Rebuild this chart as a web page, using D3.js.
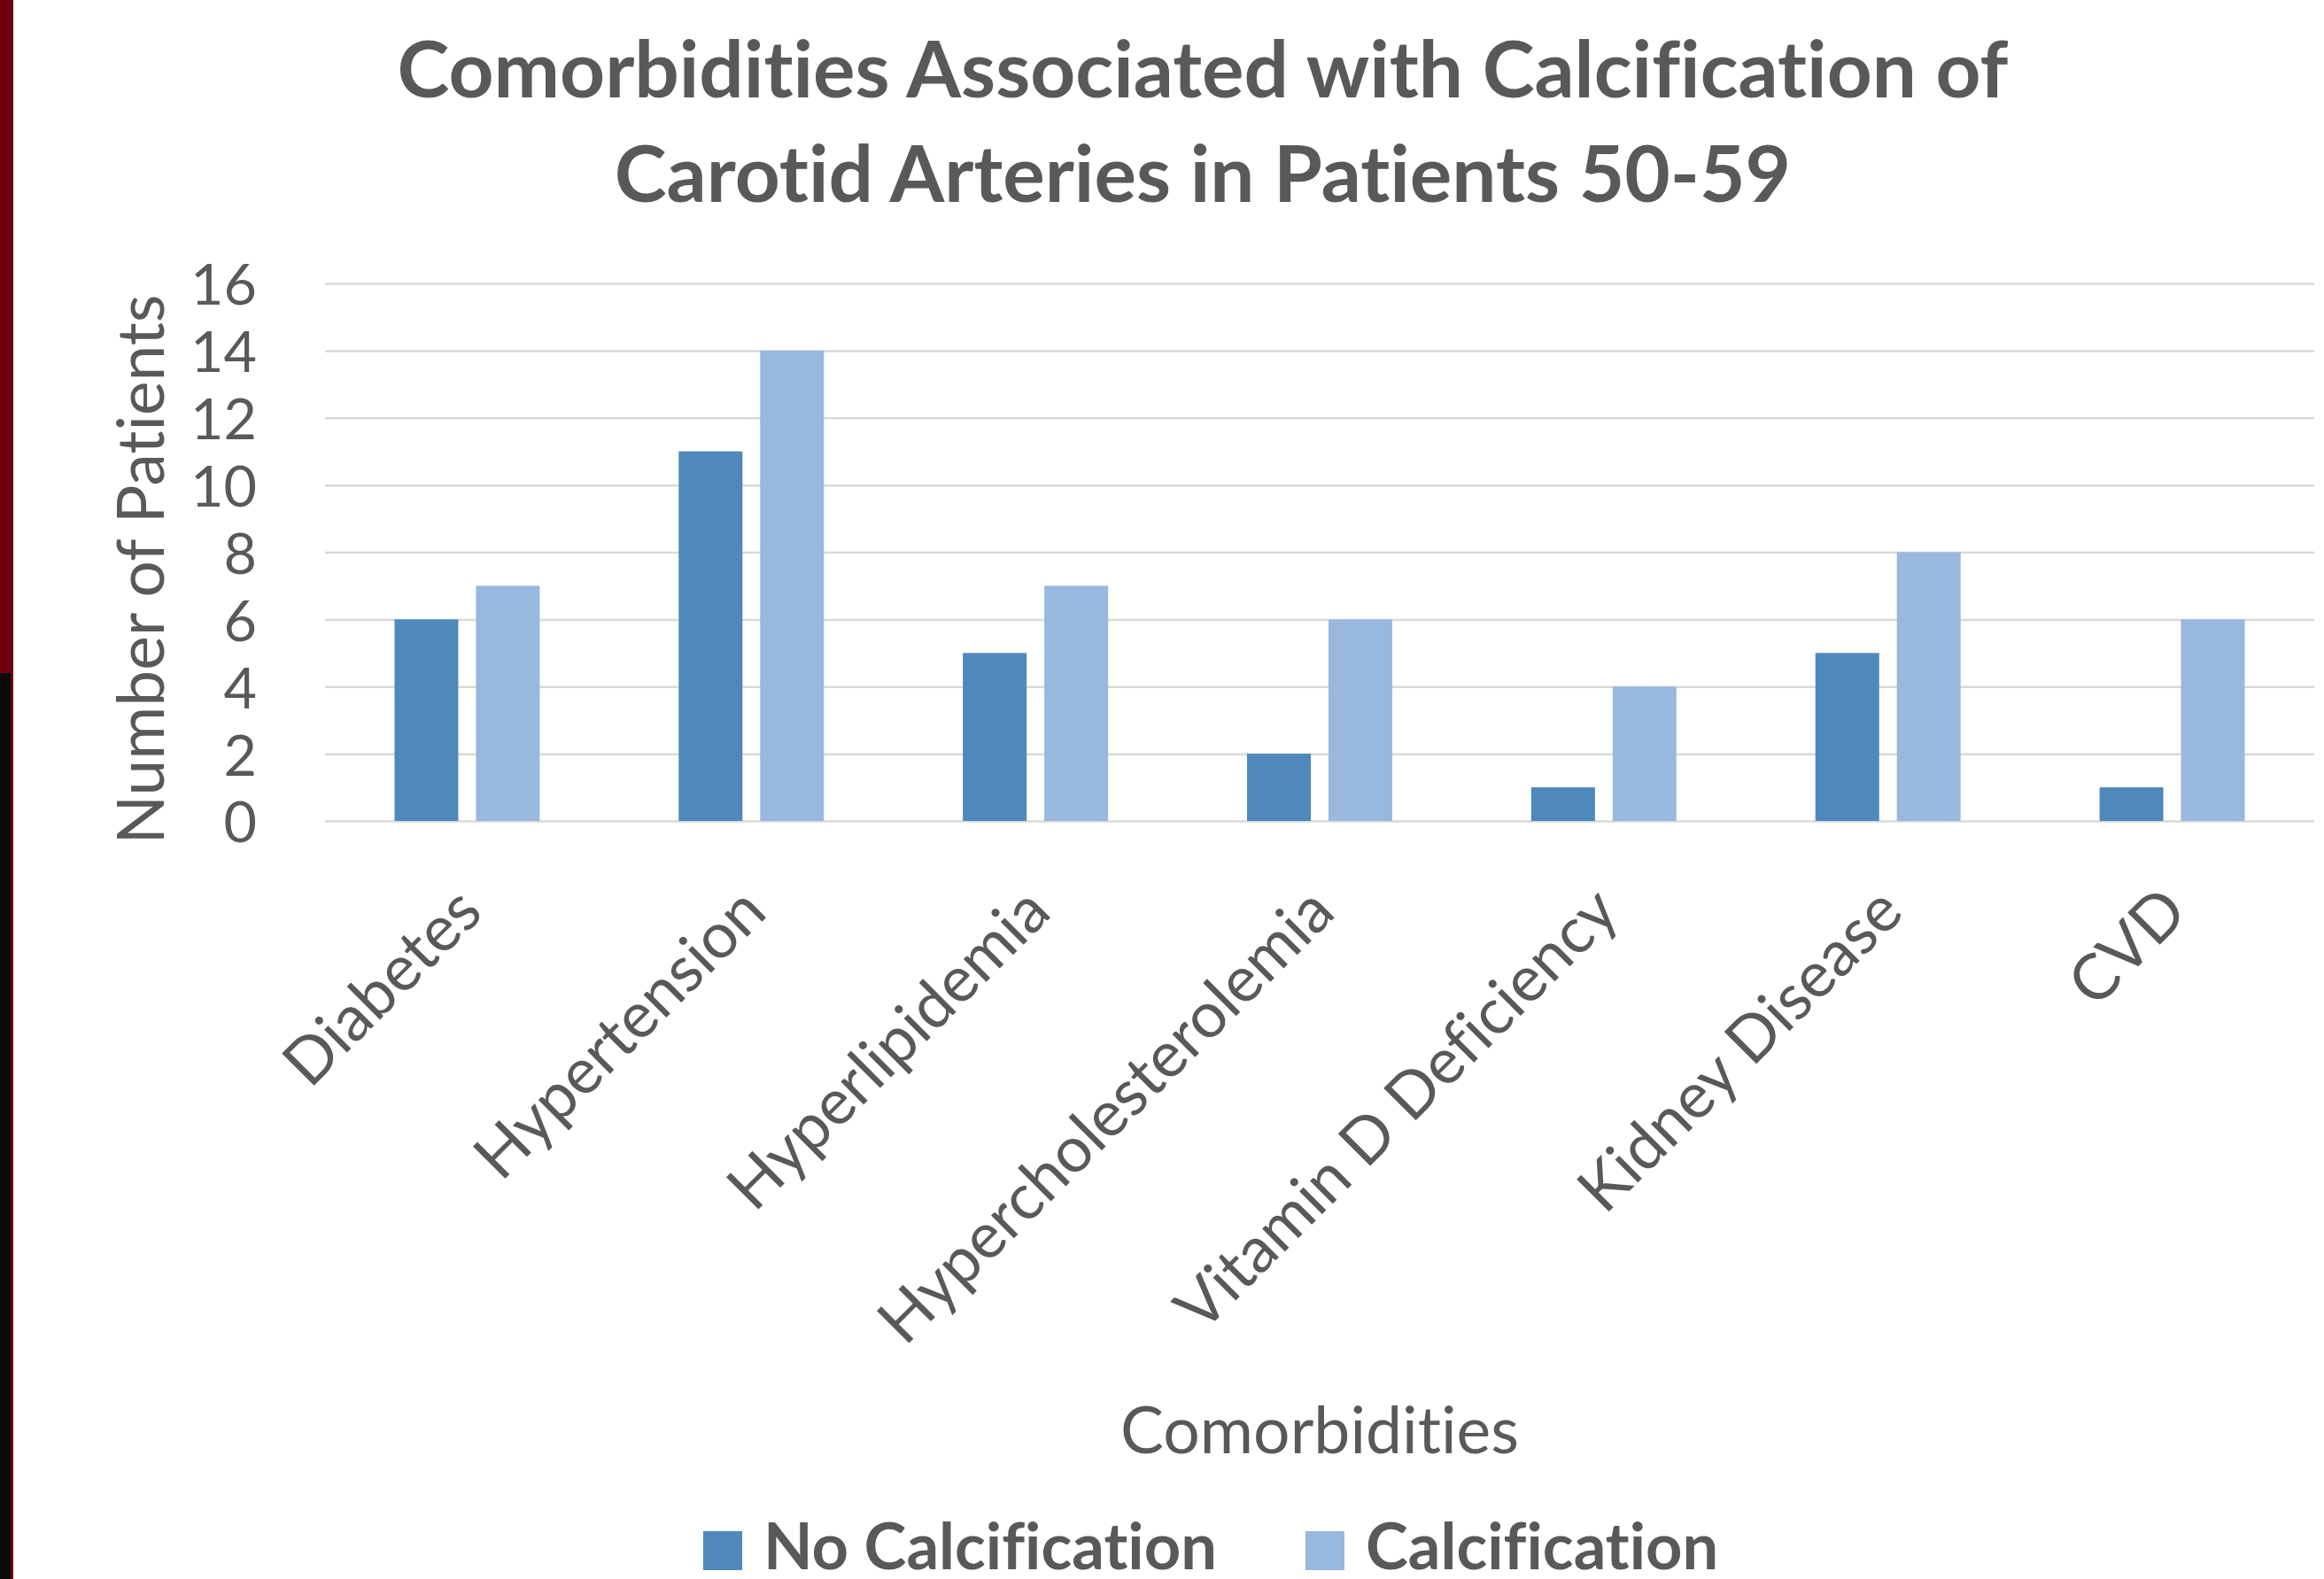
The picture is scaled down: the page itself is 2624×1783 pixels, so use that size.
<!DOCTYPE html>
<html>
<head>
<meta charset="utf-8">
<script src="https://cdn.jsdelivr.net/npm/d3@7"></script>
<style>
  html, body { margin: 0; padding: 0; background: #fff; }
  svg { display: block; }
  text { font-family: Lato, "Open Sans", sans-serif; fill: #595959;
         font-variant-ligatures: none; font-feature-settings: "liga" 0, "clig" 0; }
</style>
</head>
<body>
<div id="chart"></div>
<script>
// Data
const categories = ['Diabetes', 'Hypertension', 'Hyperlipidemia', 'Hypercholesterolemia',
                    'Vitamin D Deficiency', 'Kidney Disease', 'CVD'];
const seriesNames = ['No Calcification', 'Calcification'];
const noCalcification = [6, 11, 5, 2, 1, 5, 1];
const calcification = [7, 14, 7, 6, 4, 8, 6];
const yTicks = [0, 2, 4, 6, 8, 10, 12, 14, 16];
const titleLines = ['Comorbidities Associated with Calcification of',
                    'Carotid Arteries in Patients 50-59'];

const colors = ['#4F88BB', '#98B8DE'];

const W = 2624, H = 1783;
const margin = { top: 320, right: 11, bottom: 856, left: 367 };
const width = W - margin.left - margin.right;
const height = H - margin.top - margin.bottom;

const svg = d3.select('#chart')
    .append('svg')
    .attr('width', W)
    .attr('height', H);

// slide edge on the left
svg.append('rect').attr('x', 0).attr('y', 0).attr('width', 15).attr('height', H).attr('fill', '#6E0011');
svg.append('rect').attr('x', 0).attr('y', 760).attr('width', 12).attr('height', H - 760).attr('fill', '#0A0A0A');

// shrink or grow font so the text fills a target width
function fitWidth(sel, target) {
    const node = sel.node();
    const size = parseFloat(sel.style('font-size'));
    const len = node.getComputedTextLength();
    const s = size * target / len;
    sel.style('font-size', s + 'px');
    return s;
}

const g = svg.append('g')
    .attr('transform', `translate(${margin.left},${margin.top})`);

// Scales
const x0 = d3.scaleBand()
    .domain(categories)
    .range([0, width])
    .padding(0);

const x1 = d3.scaleBand()
    .domain(seriesNames)
    .range([0, x0.bandwidth()])
    .paddingInner(0.217)
    .paddingOuter(0.853);

const y = d3.scaleLinear()
    .domain([0, 16])
    .range([height, 0]);

// Gridlines
g.append('g')
    .attr('class', 'grid')
    .call(d3.axisLeft(y).tickValues(yTicks).tickSize(-width).tickFormat(''))
    .call(s => s.select('.domain').remove())
    .selectAll('line')
    .attr('stroke', '#D9D9D9')
    .attr('stroke-width', 2.5);

// Bars
const rows = categories.map((c, i) => ({
    category: c,
    values: [noCalcification[i], calcification[i]]
}));

g.selectAll('.cat')
    .data(rows)
    .enter()
    .append('g')
    .attr('class', 'cat')
    .attr('transform', d => `translate(${x0(d.category)},0)`)
    .selectAll('rect')
    .data(d => d.values.map((v, j) => ({ key: seriesNames[j], value: v, j })))
    .enter()
    .append('rect')
    .attr('x', d => x1(d.key))
    .attr('y', d => y(d.value))
    .attr('width', x1.bandwidth())
    .attr('height', d => height - y(d.value))
    .attr('fill', d => colors[d.j]);

// Y axis
const yAxis = g.append('g')
    .call(d3.axisLeft(y).tickValues(yTicks).tickSize(0).tickPadding(77))
    .call(s => s.select('.domain').remove());
yAxis.selectAll('text')
    .style('font-size', '70px')
    .style('font-family', 'Lato, sans-serif')
    .attr('fill', '#595959')
    .attr('dy', '0.37em');
const tick16 = yAxis.selectAll('.tick text').filter(d => d === 16);
const yTickSize = fitWidth(tick16, 75);
yAxis.selectAll('text').style('font-size', yTickSize + 'px');

// X axis
const xAxis = g.append('g')
    .attr('transform', `translate(0,${height})`)
    .call(d3.axisBottom(x0).tickSize(0))
    .call(s => s.select('.domain').remove());
xAxis.selectAll('text')
    .style('font-size', '72px')
    .style('font-family', 'Lato, sans-serif')
    .attr('fill', '#595959')
    .attr('y', 0)
    .attr('dy', 0)
    .attr('text-anchor', 'end')
    .attr('transform', 'translate(20,106) rotate(-45)');
const hyp = xAxis.selectAll('.tick text').filter(d => d === 'Hypertension');
const xLabSize = fitWidth(hyp, 428);
xAxis.selectAll('text').style('font-size', xLabSize + 'px');

// Title
const t1 = svg.append('text')
    .attr('x', 1358).attr('y', 110)
    .attr('text-anchor', 'middle')
    .style('font-weight', 'bold')
    .style('font-size', '88px')
    .text(titleLines[0]);
const titleSize = fitWidth(t1, 1819);
svg.append('text')
    .attr('x', 1358).attr('y', 228)
    .attr('text-anchor', 'middle')
    .style('font-weight', 'bold')
    .style('font-size', titleSize + 'px')
    .text(titleLines[1]);

// Axis titles
const yTitle = svg.append('text')
    .attr('text-anchor', 'middle')
    .attr('transform', 'translate(185,643) rotate(-90)')
    .style('font-size', '72px')
    .text('Number of Patients');
fitWidth(yTitle, 621);

const xTitle = svg.append('text')
    .attr('x', 1490).attr('y', 1641)
    .attr('text-anchor', 'middle')
    .style('font-size', '76px')
    .text('Comorbidities');
fitWidth(xTitle, 450);

// Legend
const legendX = [794, 1474];
const legend = svg.append('g');
let legSize = null;
seriesNames.forEach((name, i) => {
    legend.append('rect')
        .attr('x', legendX[i]).attr('y', 1729)
        .attr('width', 44).attr('height', 44)
        .attr('fill', colors[i]);
    const t = legend.append('text')
        .attr('x', legendX[i] + 68).attr('y', 1772)
        .style('font-weight', 'bold')
        .style('font-size', (legSize || 76) + 'px')
        .text(name);
    if (i === 0) legSize = fitWidth(t, 512);
});
</script>
</body>
</html>
